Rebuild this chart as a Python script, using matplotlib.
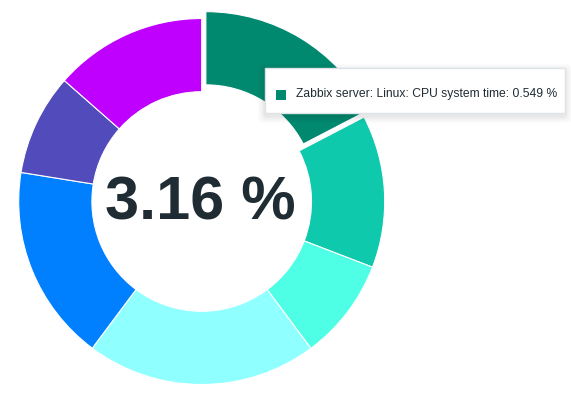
import matplotlib.pyplot as plt
from matplotlib.patches import FancyBboxPatch, Rectangle

# Slice values (percent), clockwise from 12 o'clock.
values = [0.549, 0.426, 0.284, 0.644, 0.548, 0.283, 0.427]
colors = ["#00896F", "#0EC9AC", "#4EFFE6", "#8FFFFF", "#0080FF", "#524BBC", "#BF00FF"]
total_label = "3.16 %"
tooltip_label = "Zabbix server: Linux: CPU system time: 0.549 %"
highlight = 0

W, H = 571, 399
fig = plt.figure(figsize=(W / 100, H / 100), dpi=100)
ax = fig.add_axes([0, 0, 1, 1])

cx, cy = 201.7, H - 201.5
radius = 183
# explode offset is in data units (pixels here)
explode = [8 if i == highlight else 0 for i in range(len(values))]

ax.pie(values, colors=colors, startangle=90, counterclock=False,
       center=(cx, cy), radius=radius, explode=explode,
       wedgeprops=dict(width=radius * 0.4, edgecolor="white", linewidth=0.8))

ax.set_xlim(0, W)
ax.set_ylim(0, H)
ax.set_aspect("auto")
ax.axis("off")

ax.text(cx - 1, cy - 2, total_label, ha="center", va="center",
        fontsize=44, fontweight="bold", color="#1F2C33",
        family=["Liberation Sans", "DejaVu Sans"])

# Tooltip with a soft shadow.
bx0, by0, bx1, by1 = 265, H - 113, 565, H - 68
for i, a in enumerate([0.015, 0.02, 0.025, 0.03]):
    pad = 7 - i * 1.7
    ax.add_patch(FancyBboxPatch((bx0 - pad, by0 - pad - 3), bx1 - bx0 + 2 * pad,
                                by1 - by0 + 2 * pad,
                                boxstyle="round,pad=0,rounding_size=5",
                                facecolor="black", edgecolor="none", alpha=a,
                                zorder=5))
ax.add_patch(Rectangle((bx0, by0), bx1 - bx0, by1 - by0, facecolor="white",
                       edgecolor="#DDE3E6", linewidth=1, zorder=6))
ax.add_patch(Rectangle((276, H - 100), 10, 10, facecolor=colors[highlight],
                       edgecolor="none", zorder=7))
ax.text(296, H - 94.5, tooltip_label, ha="left", va="center", fontsize=8.75,
        color="#1F2C33", family=["Liberation Sans", "DejaVu Sans"], zorder=7)

fig.savefig("out.png", dpi=100)
